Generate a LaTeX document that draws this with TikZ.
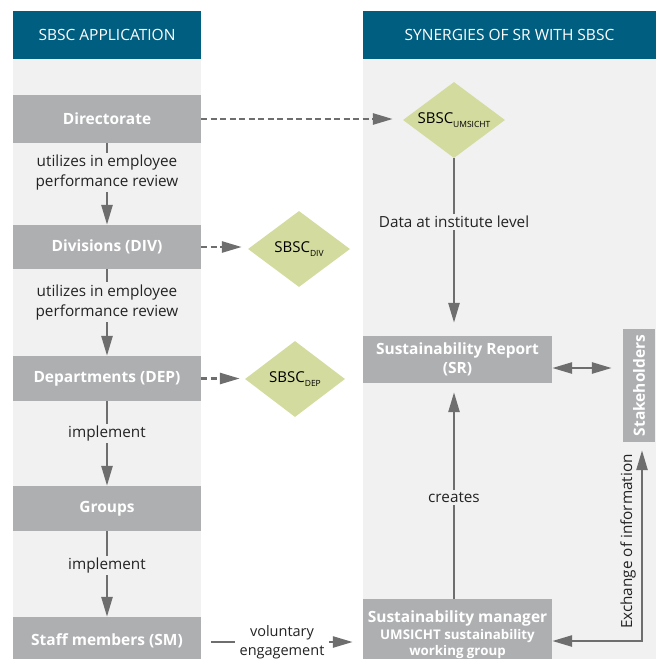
\documentclass[tikz,border=0pt]{standalone}
\usepackage{fontspec}
\setmainfont{Open Sans}
\usetikzlibrary{shapes.geometric,arrows.meta,calc}

\definecolor{hdrblue}{RGB}{0,94,128}
\definecolor{colbg}{RGB}{241,241,241}
\definecolor{boxgray}{RGB}{174,175,177}
\definecolor{sbscgreen}{RGB}{212,219,158}
\definecolor{arrgray}{RGB}{110,110,110}
\definecolor{txtgray}{RGB}{35,35,35}

\newcommand{\lvlsub}[1]{\raisebox{-3.5pt}{\fontsize{8.5}{9}\selectfont #1}}% subscript of SBSC
\newcommand{\subfont}{\fontsize{13.3}{15}\selectfont}

\tikzset{
  header/.style={fill=hdrblue,text=white,minimum height=48pt,inner sep=0pt,
    font=\fontsize{15.5}{18}\selectfont},
  unit/.style={fill=boxgray,text=white,minimum width=188pt,inner sep=0pt,
    font=\fontsize{15.5}{19}\selectfont\bfseries},
  sbsc/.style={diamond,fill=sbscgreen,aspect=1.34,minimum width=102pt,
    minimum height=76pt,inner sep=0pt,text=black,font=\fontsize{15}{17}\selectfont},
  tip/.style={-{Triangle[length=20pt,width=11pt]}},
  bothtips/.style={{Triangle[length=20pt,width=11pt]}-{Triangle[length=20pt,width=11pt]}},
  flow/.style={draw=arrgray,line width=2.6pt},
  dsh/.style={dash pattern=on 6pt off 3.5pt},
  lbl/.style={fill=colbg,text=txtgray,inner sep=2pt,align=center,
    font=\fontsize{15.3}{20}\selectfont},
}

\begin{document}
\begin{tikzpicture}[x=1pt,y=-1pt]
\useasboundingbox (0,0) rectangle (657,659);

% Columns
\fill[colbg] (13,59) rectangle (201,670);
\fill[colbg] (363,59) rectangle (656,670);

% Headers
\node[header,minimum width=188pt] (hdrApp) at (107,35) {SBSC APPLICATION};
\node[header,minimum width=293pt] (hdrSyn) at (509.5,35) {SYNERGIES OF SR WITH SBSC};

% Organisation levels
\node[unit,minimum height=48pt] (dir) at (107,119) {Directorate};
\node[unit,minimum height=44pt] (div) at (107,247) {Divisions (DIV)};
\node[unit,minimum height=45pt] (dep) at (107,378.5) {Departments (DEP)};
\node[unit,minimum height=45pt] (grp) at (107,508.5) {Groups};
\node[unit,minimum height=48pt] (sm) at (107,641) {Staff members (SM)};

% SBSC diamonds
\node[sbsc] (sbscUm) at (454,120) {SBSC\lvlsub{UMSICHT}};
\node[sbsc] (sbscDiv) at (299,249) {SBSC\lvlsub{DIV}};
\node[sbsc,minimum width=100pt] (sbscDep) at (295,379) {SBSC\lvlsub{DEP}};

% Report side
\node[unit,minimum width=189pt,minimum height=47pt,align=center] (sr) at (457.5,359.5)
  {Sustainability Report\\(SR)};
\node[unit,minimum width=113pt,minimum height=32pt,rotate=90] (stake) at (639,385.5)
  {Stakeholders};
\node[unit,minimum width=189pt,minimum height=72pt,anchor=north,align=center] (mgr) at (457.5,599)
  {Sustainability manager\\[-2pt]{\subfont UMSICHT sustainability}\\[-3pt]{\subfont working group}};
\coordinate (exLow) at (600,641);

% Hierarchy
\draw[flow,tip] (dir) -- node[lbl,pos=0.36] {utilizes in employee\\performance review} (div);
\draw[flow,tip] (div) -- node[lbl,pos=0.38] {utilizes in employee\\performance review} (dep);
\draw[flow,tip] (dep) -- node[lbl,pos=0.38] {implement} (grp);
\draw[flow,tip] (grp) -- node[lbl,pos=0.4] {implement} (sm);

% SBSC derived per level
\draw[flow,dsh,tip,shorten >=10pt] (dir.east) -- (dir.east -| sbscUm.west);
\draw[flow,dsh,tip,shorten >=6pt] (div.east) -- (div.east -| sbscDiv.west);
\draw[flow,dsh,tip,shorten >=5pt] (dep.east) -- (dep.east -| sbscDep.west);

% Staff to manager
\draw[flow,tip,shorten <=10pt,shorten >=10pt] ([yshift=-1pt]sm.east) --
  node[lbl,fill=white,inner xsep=5pt,font=\fontsize{14.5}{19}\selectfont] {voluntary\\engagement} ([yshift=-1pt]sm.east -| mgr.west);

% Report
\draw[flow,tip,shorten >=13pt] (sbscUm.south) --
  node[lbl,pos=0.36] {Data at institute level} (sbscUm.south |- sr.north);
\draw[flow,tip,shorten >=9pt] (sbscUm.south |- mgr.north) --
  node[lbl,pos=0.47] {creates} (sbscUm.south |- sr.south);
\draw[flow,bothtips,shorten >=11pt] ([yshift=-8.5pt]sr.east) -- ([yshift=-8.5pt]sr.east -| stake.north);
\draw[flow,bothtips,shorten >=8pt] (mgr.east |- exLow) -|
  node[pos=0.75,rotate=90,anchor=south,inner sep=5pt,text=txtgray,font=\fontsize{15.3}{18}\selectfont]
  {Exchange of information} ([xshift=3pt]stake.west);

\end{tikzpicture}
\end{document}
